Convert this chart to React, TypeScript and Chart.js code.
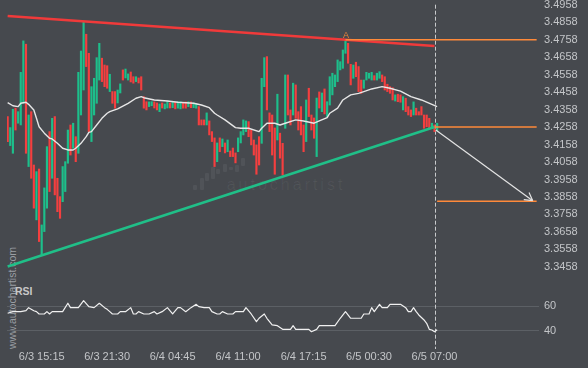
import React, { useEffect, useRef } from 'react';
import { Chart, registerables } from 'chart.js';

Chart.register(...registerables);

// ---------- data ----------
const TIME_LABELS = ['6/3 15:15', '6/3 21:30', '6/4 04:45', '6/4 11:00', '6/4 17:15', '6/5 00:30', '6/5 07:00'];
const TIME_LABEL_INDEX = [13, 38, 63, 88, 113, 138, 163];
const PRICE_TICKS = [3.4958, 3.4858, 3.4758, 3.4658, 3.4558, 3.4458, 3.4358, 3.4258, 3.4158, 3.4058, 3.3958, 3.3858, 3.3758, 3.3658, 3.3558, 3.3458];
const RSI_TICKS = [40, 60];

const HIGHS = [
  3.4318, 3.4255, 3.4360, 3.4366, 3.4346, 3.4571, 3.4751, 3.4732, 3.4327, 3.4346,
  3.4041, 3.4003, 3.4018, 3.3698, 3.3910, 3.4146, 3.4232, 3.4308, 3.4318, 3.3965,
  3.3860, 3.4032, 3.4060, 3.4241, 3.4270, 3.4280, 3.4203, 3.4571, 3.4693, 3.4857,
  3.4789, 3.4680, 3.4489, 3.4537, 3.4655, 3.4737, 3.4652, 3.4613, 3.4609, 3.4560,
  3.4461, 3.4461, 3.4470, 3.4505, 3.4585, 3.4590, 3.4562, 3.4573, 3.4546, 3.4546,
  3.4539, 3.4546, 3.4432, 3.4403, 3.4402, 3.4403, 3.4402, 3.4396, 3.4390, 3.4396,
  3.4390, 3.4407, 3.4396, 3.4402, 3.4402, 3.4403, 3.4403, 3.4396, 3.4402, 3.4403,
  3.4402, 3.4396, 3.4390, 3.4375, 3.4299, 3.4299, 3.4339, 3.4293, 3.4232, 3.4196,
  3.4167, 3.4196, 3.4190, 3.4167, 3.4184, 3.4121, 3.4138, 3.4110, 3.4196, 3.4232,
  3.4299, 3.4293, 3.4289, 3.4241, 3.4184, 3.4156, 3.4203, 3.4537, 3.4655, 3.4661,
  3.4339, 3.4327, 3.4253, 3.4446, 3.4223, 3.4165, 3.4556, 3.4556, 3.4356, 3.4509,
  3.4499, 3.4346, 3.4375, 3.4270, 3.4413, 3.4480, 3.4327, 3.4310, 3.4424, 3.4459,
  3.4453, 3.4476, 3.4403, 3.4546, 3.4566, 3.4556, 3.4642, 3.4632, 3.4699, 3.4758,
  3.4737, 3.4617, 3.4613, 3.4629, 3.4604, 3.4527, 3.4527, 3.4571, 3.4566, 3.4571,
  3.4552, 3.4566, 3.4575, 3.4556, 3.4546, 3.4503, 3.4489, 3.4483, 3.4442, 3.4446,
  3.4442, 3.4432, 3.4423, 3.4375, 3.4356, 3.4402, 3.4366, 3.4346, 3.4375, 3.4327,
  3.4327, 3.4308, 3.4280, 3.4270, 3.4280,
];
const LOWS = [
  3.4175, 3.4152, 3.4108, 3.4241, 3.4280, 3.4270, 3.4394, 3.4108, 3.4032, 3.3965,
  3.3794, 3.3727, 3.3603, 3.3526, 3.3660, 3.3794, 3.3889, 3.3965, 3.3870, 3.3774,
  3.3736, 3.3831, 3.3889, 3.4051, 3.4098, 3.4137, 3.4060, 3.4108, 3.4327, 3.4470,
  3.4604, 3.4232, 3.4175, 3.4327, 3.4394, 3.4527, 3.4518, 3.4489, 3.4480, 3.4461,
  3.4394, 3.4366, 3.4396, 3.4453, 3.4527, 3.4539, 3.4527, 3.4516, 3.4509, 3.4518,
  3.4510, 3.4470, 3.4366, 3.4356, 3.4375, 3.4380, 3.4367, 3.4356, 3.4346, 3.4367,
  3.4362, 3.4367, 3.4367, 3.4369, 3.4362, 3.4366, 3.4362, 3.4366, 3.4366, 3.4375,
  3.4369, 3.4369, 3.4366, 3.4270, 3.4270, 3.4270, 3.4270, 3.4213, 3.4175, 3.4032,
  3.4060, 3.4117, 3.4146, 3.4110, 3.4117, 3.4089, 3.4089, 3.4053, 3.4117, 3.4167,
  3.4213, 3.4232, 3.4203, 3.4156, 3.4098, 3.3988, 3.4041, 3.4165, 3.4489, 3.4356,
  3.4232, 3.4098, 3.3988, 3.4184, 3.4080, 3.3984, 3.4251, 3.4327, 3.4270, 3.4327,
  3.4308, 3.4241, 3.4213, 3.4117, 3.4175, 3.4318, 3.4241, 3.4194, 3.4089, 3.4367,
  3.4346, 3.4333, 3.4318, 3.4384, 3.4442, 3.4489, 3.4518, 3.4585, 3.4594, 3.4680,
  3.4623, 3.4499, 3.4537, 3.4546, 3.4461, 3.4451, 3.4480, 3.4527, 3.4537, 3.4527,
  3.4527, 3.4527, 3.4537, 3.4518, 3.4470, 3.4461, 3.4451, 3.4413, 3.4407, 3.4403,
  3.4400, 3.4356, 3.4346, 3.4327, 3.4318, 3.4327, 3.4327, 3.4327, 3.4327, 3.4251,
  3.4260, 3.4251, 3.4251, 3.4232, 3.4236,
];
// G = rising candle, R = falling candle
const DIRECTIONS = (
  'RGGRGGGRGR' + 'RGRGGGRGRR' + 'RGGGRGRGGG' + 'RRGGGGRRRG' + 'RRGGRGGRRG' +
  'RRRRGGRRGR' + 'GGRGRGGRRG' + 'RGGRRRGRRR' + 'GRGRGRRRGG' + 'GGRRRRRGGR' +
  'RRRGRRGRRG' + 'RRRRGRRRGR' + 'GRGGGGGGGG' + 'RRGRRRGGGG' + 'RGGRRRRRGR' +
  'RGRRRGRRRR' + 'RRGRG'
).split('');

const MA_INDEX = [0, 2, 4, 5, 7, 8, 10, 11, 12, 14, 16, 17, 19, 21, 23, 25, 26, 28, 30, 31, 32, 34, 36, 38, 39, 42, 46, 49, 51, 52, 56, 61, 65, 71, 74, 77, 79, 80, 83, 87, 89, 92, 96, 97, 99, 102, 104, 106, 110, 113, 117, 119, 122, 123, 126, 128, 131, 134, 136, 139, 143, 146, 150, 154, 158, 162, 164];
const MA_VALUES = [3.4398, 3.4380, 3.4375, 3.4394, 3.4400, 3.4388, 3.4356, 3.4308, 3.4260, 3.4223, 3.4194, 3.4190, 3.4165, 3.4137, 3.4127, 3.4127, 3.4137, 3.4165, 3.4203, 3.4228, 3.4232, 3.4270, 3.4308, 3.4337, 3.4346, 3.4362, 3.4394, 3.4423, 3.4432, 3.4426, 3.4413, 3.4407, 3.4400, 3.4394, 3.4384, 3.4369, 3.4337, 3.4327, 3.4299, 3.4255, 3.4251, 3.4251, 3.4232, 3.4251, 3.4280, 3.4280, 3.4270, 3.4280, 3.4299, 3.4293, 3.4280, 3.4293, 3.4312, 3.4337, 3.4366, 3.4413, 3.4442, 3.4451, 3.4461, 3.4476, 3.4489, 3.4480, 3.4464, 3.4432, 3.4413, 3.4388, 3.4375];

const RSI_INDEX = [0, 2, 5, 7, 8, 10, 11, 12, 14, 15, 16, 17, 21, 23, 24, 27, 29, 31, 33, 35, 37, 38, 39, 40, 42, 43, 45, 47, 48, 49, 50, 52, 54, 56, 57, 59, 61, 63, 65, 66, 68, 70, 72, 73, 75, 77, 78, 80, 81, 82, 84, 86, 87, 90, 91, 93, 95, 96, 98, 99, 101, 103, 105, 108, 109, 110, 113, 115, 116, 118, 119, 125, 127, 129, 131, 135, 136, 138, 139, 140, 142, 143, 145, 146, 150, 152, 153, 154, 155, 156, 157, 159, 160, 161, 162, 163, 164];
const RSI_VALUES = [54.3, 55.6, 55.6, 56.4, 58.9, 56.4, 55.6, 53.7, 53.7, 55.6, 53.7, 55.6, 55.6, 62.5, 58.9, 58.9, 64.6, 59.7, 58.9, 62.5, 58.9, 57.5, 55.6, 53.7, 53.7, 55.6, 55.6, 58.9, 53.7, 53.7, 55.6, 53.7, 53.7, 55.6, 53.7, 55.6, 58.9, 53.7, 58.9, 58.9, 55.6, 58.9, 61.6, 59.7, 58.9, 58.9, 55.6, 53.7, 53.7, 55.6, 53.7, 53.7, 55.6, 55.6, 58.9, 53.7, 47.4, 50.2, 53.7, 50.2, 44.7, 44.1, 41.1, 41.1, 44.1, 41.1, 41.1, 41.1, 39.2, 41.1, 44.1, 44.1, 50.2, 55.6, 50.2, 50.2, 53.7, 53.7, 58.9, 55.6, 61.6, 58.9, 58.9, 61.6, 61.6, 58.9, 55.6, 55.6, 58.9, 55.6, 52.9, 48.8, 46.1, 41.1, 40.6, 39.2, 40.8];

// triangle pattern
const RESISTANCE_INDEX = [0, 163];
const RESISTANCE_VALUES = [3.4893, 3.4722];
const SUPPORT_INDEX = [0, 163];
const SUPPORT_VALUES = [3.3460, 3.4258];
const A_INDEX = 129;
const LEVEL_A = 3.4758;
const BREAK_INDEX = 163;
const LEVEL_BREAK = 3.4258;
const TARGET_INDEX = 164;
const LEVEL_TARGET = 3.3834;
const LEVEL_END_INDEX = 202;
const ARROW_INDEX = [163.5, 200.5];
const ARROW_VALUES = [3.4241, 3.3837];
const NOW_INDEX = 163;

// axis ranges
const X_MIN = -0.25;
const X_MAX = 202.9;
const PRICE_MIN = 3.338306;
const PRICE_MAX = 3.498489;
const RSI_MIN = 25;
const RSI_MAX = 81.56;

// ---------- styles ----------
const FONT = "'Liberation Sans', Arial, sans-serif";
const BG = '#46494e';
const LABEL = '#c3c5c8';
const UP = '#1dbf8b';
const DOWN = '#f43f3f';
const RES_COLOR = '#f03a3a';
const SUP_COLOR = '#20bf88';
const LEVEL_COLOR = '#ff8a3a';
const MA_COLOR = '#e6e6e6';
const RSI_COLOR = '#f0f0f0';
const GRID = '#5c6065';

const pts = (xs: number[], ys: number[]) => xs.map((x, k) => ({ x, y: ys[k] }));

const overlayPlugin = {
  id: 'overlay',
  beforeDatasetsDraw(chart: any) {
    const { ctx, chartArea, scales } = chart;
    const nx = Math.round(scales.x.getPixelForValue(NOW_INDEX)) + 0.5;
    ctx.save();
    ctx.strokeStyle = '#c8cacc';
    ctx.lineWidth = 1;
    ctx.setLineDash([4, 2]);
    ctx.beginPath();
    ctx.moveTo(nx, scales.y.getPixelForValue(PRICE_TICKS[0]));
    ctx.lineTo(nx, chartArea.bottom);
    ctx.stroke();
    ctx.restore();
  },
  afterDatasetsDraw(chart: any) {
    const { ctx, scales } = chart;
    const x0 = scales.x.getPixelForValue(ARROW_INDEX[0]);
    const y0 = scales.y.getPixelForValue(ARROW_VALUES[0]);
    const x1 = scales.x.getPixelForValue(ARROW_INDEX[1]);
    const y1 = scales.y.getPixelForValue(ARROW_VALUES[1]);
    const ang = Math.atan2(y1 - y0, x1 - x0);
    const len = 9;
    ctx.save();
    ctx.strokeStyle = '#e4e4e4';
    ctx.lineWidth = 1.2;
    ctx.beginPath();
    for (const d of [-0.52, 0.52]) {
      ctx.moveTo(x1, y1);
      ctx.lineTo(x1 - len * Math.cos(ang + d), y1 - len * Math.sin(ang + d));
    }
    ctx.stroke();
    ctx.fillStyle = '#e8823a';
    ctx.font = `9px ${FONT}`;
    ctx.textAlign = 'center';
    ctx.textBaseline = 'alphabetic';
    ctx.fillText('A', scales.x.getPixelForValue(A_INDEX) + 0.5, scales.y.getPixelForValue(HIGHS[A_INDEX]) - 2);
    ctx.restore();
  },
};

export default function App() {
  const ref = useRef<HTMLCanvasElement>(null);

  useEffect(() => {
    Chart.defaults.font.family = FONT;
    Chart.defaults.font.size = 11;
    Chart.defaults.color = LABEL;

    const line = (data: any[], color: string, width: number, order: number, axis = 'y') => ({
      type: 'line',
      data,
      borderColor: color,
      borderWidth: width,
      pointRadius: 0,
      tension: 0,
      fill: false,
      yAxisID: axis,
      order,
      borderJoinStyle: 'round',
    });

    const chart = new Chart(ref.current as HTMLCanvasElement, {
      type: 'line',
      data: {
        datasets: [
          {
            type: 'bar',
            data: HIGHS.map((h, i) => ({ x: i, y: [LOWS[i], h] })),
            backgroundColor: DIRECTIONS.map((d) => (d === 'G' ? UP : DOWN)),
            borderWidth: 0,
            barThickness: 1.5,
            grouped: false,
            yAxisID: 'y',
            order: 6,
          },
          line(pts(MA_INDEX, MA_VALUES), MA_COLOR, 1.4, 4),
          line(pts(RSI_INDEX, RSI_VALUES), RSI_COLOR, 1.2, 4, 'rsi'),
          line(pts(SUPPORT_INDEX, SUPPORT_VALUES), SUP_COLOR, 2.6, 3),
          line(pts(RESISTANCE_INDEX, RESISTANCE_VALUES), RES_COLOR, 2.6, 3),
          line(pts([A_INDEX, LEVEL_END_INDEX], [LEVEL_A, LEVEL_A]), LEVEL_COLOR, 1.5, 1),
          line(pts([BREAK_INDEX, LEVEL_END_INDEX], [LEVEL_BREAK, LEVEL_BREAK]), LEVEL_COLOR, 1.5, 1),
          line(pts([TARGET_INDEX, LEVEL_END_INDEX], [LEVEL_TARGET, LEVEL_TARGET]), LEVEL_COLOR, 1.5, 1),
          line(pts(ARROW_INDEX, ARROW_VALUES), '#e4e4e4', 1.2, 2),
        ] as any,
      },
      options: {
        responsive: false,
        animation: false,
        events: [],
        layout: { padding: { left: 7, right: 0, top: 0, bottom: 0 }, autoPadding: false },
        plugins: { legend: { display: false }, tooltip: { enabled: false } },
        scales: {
          x: {
            type: 'linear',
            min: X_MIN,
            max: X_MAX,
            offset: false,
            bounds: 'data',
            grid: { display: false, drawTicks: false, offset: false },
            border: { display: false },
            afterBuildTicks: (s: any) => {
              s.ticks = TIME_LABEL_INDEX.map((v) => ({ value: v }));
            },
            afterFit: (s: any) => {
              s.height = 19;
              s.paddingLeft = 0;
              s.paddingRight = 0;
            },
            ticks: {
              autoSkip: false,
              maxRotation: 0,
              minRotation: 0,
              padding: 1,
              color: LABEL,
              font: { size: 11 },
              callback: (_v: any, i: number) => TIME_LABELS[i],
            },
          },
          y: {
            type: 'linear',
            position: 'right',
            stack: 'panes',
            stackWeight: 280,
            min: PRICE_MIN,
            max: PRICE_MAX,
            bounds: 'data',
            grid: { display: false, drawTicks: false },
            border: { display: false },
            afterBuildTicks: (s: any) => {
              s.ticks = PRICE_TICKS.map((v) => ({ value: v }));
            },
            afterFit: (s: any) => {
              s.width = 49;
              s.paddingTop = 0;
              s.paddingBottom = 0;
            },
            ticks: {
              autoSkip: false,
              padding: 5,
              color: LABEL,
              font: { size: 11 },
              callback: (v: any) => Number(v).toFixed(4),
            },
          },
          rsi: {
            type: 'linear',
            position: 'right',
            stack: 'panes',
            stackWeight: 69,
            min: RSI_MIN,
            max: RSI_MAX,
            bounds: 'data',
            grid: { display: true, drawTicks: false, color: GRID, lineWidth: 1 },
            border: { display: false },
            afterBuildTicks: (s: any) => {
              s.ticks = RSI_TICKS.map((v) => ({ value: v }));
            },
            afterFit: (s: any) => {
              s.width = 49;
              s.paddingTop = 0;
              s.paddingBottom = 0;
            },
            ticks: {
              autoSkip: false,
              padding: 5,
              color: LABEL,
              font: { size: 11 },
              callback: (v: any) => String(v),
            },
          },
        },
      } as any,
      plugins: [overlayPlugin],
    });
    return () => chart.destroy();
  }, []);

  const faint = 'rgba(255,255,255,0.06)';
  const iconBars = [
    [193, 185, 190], [199.7, 177.7, 190], [205.3, 173.3, 181], [211.3, 166.7, 179],
    [216, 169, 174.3], [223.3, 164.3, 171.7], [229.3, 166.7, 170], [235.3, 165, 171.7], [241, 158.3, 165.7],
  ];

  return (
    <div
      style={{
        position: 'fixed',
        left: 0,
        top: 0,
        width: 588,
        height: 368,
        background: BG,
        overflow: 'hidden',
        fontFamily: FONT,
      }}
    >
      {iconBars.map(([x, t, b], k) => (
        <div
          key={k}
          style={{ position: 'absolute', left: x, top: t, width: 4, height: b - t, background: faint, borderRadius: 1 }}
        />
      ))}
      <div
        style={{
          position: 'absolute',
          left: 226.7,
          top: 177.2,
          fontSize: 16,
          lineHeight: '16px',
          letterSpacing: 3,
          color: faint,
          whiteSpace: 'nowrap',
        }}
      >
        autochartist
      </div>
      <div
        style={{
          position: 'absolute',
          left: 12,
          top: 297.5,
          transform: 'translate(-50%, -50%) rotate(-90deg)',
          fontSize: 10.5,
          lineHeight: '11px',
          color: '#9a9ea3',
          whiteSpace: 'nowrap',
        }}
      >
        www.autochartist.com
      </div>
      <div
        style={{
          position: 'absolute',
          left: 15,
          top: 285.7,
          fontSize: 10.5,
          lineHeight: '10.5px',
          fontWeight: 'bold',
          color: '#c8c8c8',
        }}
      >
        RSI
      </div>
      <canvas
        ref={ref}
        width={588}
        height={368}
        style={{ position: 'absolute', left: 0, top: 0, width: 588, height: 368 }}
      />
    </div>
  );
}
